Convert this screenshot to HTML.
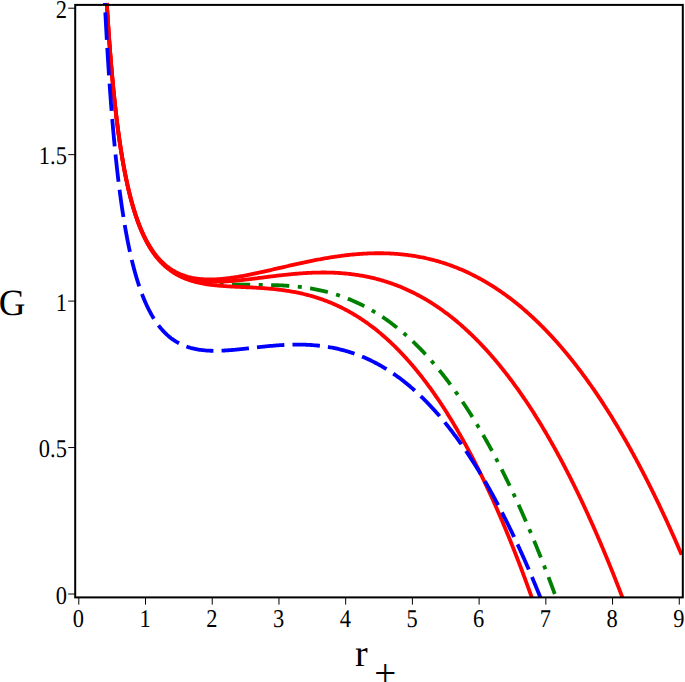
<!DOCTYPE html>
<html><head><meta charset="utf-8"><style>
html,body{margin:0;padding:0;background:#fff;width:685px;height:682px;overflow:hidden}
svg{display:block;font-family:"Liberation Serif",serif;text-rendering:geometricPrecision}
</style></head><body>
<svg width="685" height="682" viewBox="0 0 685 682">
<defs><clipPath id="c"><rect x="74" y="2.8" width="610" height="594.6"/></clipPath></defs>
<g clip-path="url(#c)" fill="none" stroke-linejoin="round">
<path d="M208.90 282.09 L210.09 282.30 L211.27 282.50 L212.46 282.68 L213.65 282.86 L214.84 283.02 L216.04 283.17 L217.23 283.32 L218.43 283.45 L219.62 283.57 L220.82 283.69 L222.02 283.79 L223.21 283.89 L224.41 283.98 L225.61 284.07 L226.81 284.14 L228.01 284.21 L229.21 284.28 L230.41 284.34 L231.62 284.39 L232.82 284.44 L234.02 284.48 L235.22 284.52 L236.42 284.56 L237.62 284.59 L238.83 284.62 L240.03 284.64 L241.23 284.67 L242.43 284.69 L243.64 284.70 L244.84 284.72 L246.04 284.73 L247.24 284.75 L248.44 284.76 L249.65 284.77 L250.85 284.78 L252.05 284.78 L253.25 284.79 L254.46 284.80 L255.66 284.81 L256.86 284.82 L258.06 284.83 L259.27 284.84 L260.47 284.85 L261.67 284.86 L262.87 284.88 L264.08 284.89 L265.28 284.91 L266.48 284.93 L267.68 284.95 L268.88 284.98 L270.09 285.00 L271.29 285.03 L272.49 285.07 L273.69 285.10 L274.89 285.14 L276.10 285.18 L277.30 285.23 L278.50 285.27 L279.70 285.33 L280.90 285.38 L282.10 285.44 L283.30 285.51 L284.50 285.58 L285.70 285.65 L286.90 285.73 L288.10 285.82 L289.30 285.90 L290.50 286.00 L291.70 286.10 L292.90 286.20 L294.09 286.31 L295.29 286.42 L296.49 286.55 L297.68 286.67 L298.88 286.80 L300.07 286.94 L301.27 287.09 L302.46 287.24 L303.65 287.39 L304.84 287.56 L306.03 287.73 L307.22 287.90 L308.41 288.09 L309.60 288.28 L310.78 288.47 L311.97 288.68 L313.15 288.89 L314.34 289.11 L315.52 289.33 L316.70 289.56 L317.88 289.80 L319.05 290.05 L320.23 290.30 L321.40 290.56 L322.57 290.83 L323.74 291.11 L324.91 291.39 L326.08 291.68 L327.24 291.98 L328.41 292.29 L329.57 292.60 L330.73 292.92 L331.88 293.25 L333.04 293.59 L334.19 293.93 L335.34 294.29 L336.48 294.65 L337.63 295.01 L338.77 295.39 L339.91 295.77 L341.05 296.17 L342.18 296.56 L343.31 296.97 L344.44 297.39 L345.57 297.81 L346.69 298.24 L347.81 298.68 L348.93 299.12 L350.04 299.58 L351.15 300.04 L352.26 300.50 L353.36 300.98 L354.46 301.46 L355.56 301.95 L356.66 302.45 L357.75 302.96 L358.83 303.47 L359.92 303.99 L361.00 304.52 L362.08 305.06 L363.15 305.60 L364.22 306.15 L365.28 306.70 L366.35 307.27 L367.40 307.84 L368.46 308.41 L369.51 309.00 L370.56 309.59 L371.60 310.19 L372.64 310.79 L373.68 311.40 L374.71 312.02 L375.74 312.64 L376.76 313.27 L377.78 313.91 L378.80 314.55 L379.81 315.20 L380.82 315.86 L381.82 316.52 L382.82 317.19 L383.82 317.86 L384.81 318.54 L385.80 319.23 L386.78 319.92 L387.76 320.61 L388.74 321.32 L389.71 322.02 L390.68 322.74 L391.64 323.46 L392.60 324.18 L393.56 324.91 L394.51 325.64 L395.46 326.38 L396.40 327.13 L397.34 327.88 L398.27 328.63 L399.21 329.39 L400.13 330.16 L401.06 330.93 L401.98 331.70 L402.89 332.48 L403.81 333.26 L404.71 334.05 L405.62 334.85 L406.52 335.64 L407.42 336.44 L408.31 337.25 L409.20 338.06 L410.08 338.87 L410.96 339.69 L411.84 340.51 L412.72 341.34 L413.58 342.17 L414.45 343.00 L415.31 343.84 L416.17 344.68 L417.03 345.53 L417.88 346.38 L418.73 347.23 L419.57 348.09 L420.41 348.95 L421.25 349.81 L422.08 350.68 L422.91 351.55 L423.74 352.42 L424.56 353.30 L425.38 354.18 L426.20 355.06 L427.01 355.95 L427.82 356.84 L428.62 357.73 L429.42 358.62 L430.22 359.52 L431.02 360.42 L431.81 361.33 L432.60 362.24 L433.38 363.15 L434.17 364.06 L434.95 364.98 L435.72 365.89 L436.49 366.82 L437.26 367.74 L438.03 368.67 L438.79 369.60 L439.55 370.53 L440.31 371.46 L441.07 372.40 L441.82 373.34 L442.56 374.28 L443.31 375.22 L444.05 376.17 L444.79 377.12 L445.53 378.07 L446.26 379.02 L446.99 379.98 L447.72 380.93 L448.44 381.89 L449.16 382.85 L449.88 383.82 L450.60 384.78 L451.31 385.75 L452.02 386.72 L452.73 387.69 L453.44 388.67 L454.14 389.64 L454.84 390.62 L455.54 391.60 L456.23 392.58 L456.92 393.57 L457.61 394.55 L458.30 395.54 L458.98 396.53 L459.66 397.52 L460.34 398.51 L461.02 399.50 L461.69 400.50 L462.37 401.50 L463.04 402.50 L463.70 403.50 L464.37 404.50 L465.03 405.50 L465.69 406.51 L466.35 407.51 L467.00 408.52 L467.65 409.53 L468.30 410.54 L468.95 411.56 L469.60 412.57 L470.24 413.59 L470.88 414.60 L471.52 415.62 L472.16 416.64 L472.79 417.66 L473.42 418.69 L474.05 419.71 L474.68 420.74 L475.31 421.76 L475.93 422.79 L476.55 423.82 L477.17 424.85 L477.79 425.88 L478.41 426.91 L479.02 427.95 L479.63 428.98 L480.24 430.02 L480.85 431.06 L481.45 432.10 L482.06 433.14 L482.66 434.18 L483.26 435.22 L483.86 436.26 L484.45 437.31 L485.04 438.35 L485.64 439.40 L486.23 440.45 L486.81 441.50 L487.40 442.55 L487.99 443.60 L488.57 444.65 L489.15 445.70 L489.73 446.76 L490.30 447.81 L490.88 448.87 L491.45 449.92 L492.03 450.98 L492.60 452.04 L493.16 453.10 L493.73 454.16 L494.30 455.22 L494.86 456.28 L495.42 457.35 L495.98 458.41 L496.54 459.48 L497.09 460.54 L497.65 461.61 L498.20 462.68 L498.75 463.75 L499.30 464.81 L499.85 465.88 L500.40 466.96 L500.94 468.03 L501.49 469.10 L502.03 470.17 L502.57 471.25 L503.11 472.32 L503.65 473.40 L504.18 474.47 L504.72 475.55 L505.25 476.63 L505.78 477.71 L506.31 478.79 L506.84 479.87 L507.37 480.95 L507.89 482.03 L508.42 483.11 L508.94 484.19 L509.46 485.28 L509.98 486.36 L510.50 487.45 L511.02 488.53 L511.53 489.62 L512.05 490.71 L512.56 491.79 L513.07 492.88 L513.58 493.97 L514.09 495.06 L514.60 496.15 L515.10 497.24 L515.61 498.33 L516.11 499.42 L516.61 500.52 L517.11 501.61 L517.61 502.70 L518.11 503.80 L518.61 504.89 L519.10 505.99 L519.60 507.08 L520.09 508.18 L520.58 509.28 L521.07 510.38 L521.56 511.47 L522.05 512.57 L522.54 513.67 L523.02 514.77 L523.51 515.87 L523.99 516.97 L524.47 518.08 L524.95 519.18 L525.43 520.28 L525.91 521.38 L526.39 522.49 L526.87 523.59 L527.34 524.70 L527.82 525.80 L528.29 526.91 L528.76 528.01 L529.23 529.12 L529.70 530.23 L530.17 531.33 L530.64 532.44 L531.10 533.55 L531.57 534.66 L532.03 535.77 L532.49 536.88 L532.95 537.99 L533.42 539.10 L533.87 540.21 L534.33 541.32 L534.79 542.43 L535.25 543.55 L535.70 544.66 L536.16 545.77 L536.61 546.89 L537.06 548.00 L537.51 549.11 L537.96 550.23 L538.41 551.34 L538.86 552.46 L539.31 553.58 L539.76 554.69 L540.20 555.81 L540.64 556.93 L541.09 558.04 L541.53 559.16 L541.97 560.28 L542.41 561.40 L542.85 562.52 L543.29 563.64 L543.73 564.76 L544.16 565.88 L544.60 567.00 L545.03 568.12 L545.47 569.24 L545.90 570.36 L546.33 571.49 L546.76 572.61 L547.19 573.73 L547.62 574.85 L548.05 575.98 L548.48 577.10 L548.91 578.23 L549.33 579.35 L549.76 580.48 L550.18 581.60 L550.60 582.73 L551.02 583.85 L551.45 584.98 L551.87 586.11 L552.29 587.23 L552.70 588.36 L553.12 589.49 L553.54 590.61 L553.95 591.74 L554.37 592.87 L554.78 594.00" stroke="#008000" stroke-width="3.8" stroke-dasharray="18.20 8.55 4.00 8.40" stroke-dashoffset="15.95"/>
<path d="M106.72 2.80 L106.79 4.00 L106.86 5.20 L106.94 6.40 L107.01 7.59 L107.08 8.79 L107.16 9.99 L107.23 11.19 L107.31 12.39 L107.38 13.59 L107.46 14.79 L107.54 15.98 L107.61 17.18 L107.69 18.38 L107.77 19.58 L107.85 20.78 L107.93 21.98 L108.01 23.18 L108.09 24.37 L108.17 25.57 L108.25 26.77 L108.33 27.97 L108.41 29.17 L108.50 30.36 L108.58 31.56 L108.66 32.76 L108.75 33.96 L108.83 35.16 L108.92 36.35 L109.00 37.55 L109.09 38.75 L109.18 39.95 L109.26 41.14 L109.35 42.34 L109.44 43.54 L109.53 44.74 L109.62 45.94 L109.71 47.13 L109.80 48.33 L109.89 49.53 L109.99 50.73 L110.08 51.92 L110.17 53.12 L110.27 54.32 L110.36 55.51 L110.46 56.71 L110.55 57.91 L110.65 59.11 L110.75 60.30 L110.85 61.50 L110.95 62.70 L111.05 63.89 L111.15 65.09 L111.25 66.29 L111.35 67.48 L111.45 68.68 L111.56 69.88 L111.66 71.07 L111.77 72.27 L111.87 73.46 L111.98 74.66 L112.09 75.86 L112.20 77.05 L112.30 78.25 L112.41 79.44 L112.53 80.64 L112.64 81.84 L112.75 83.03 L112.86 84.23 L112.98 85.42 L113.09 86.62 L113.21 87.81 L113.33 89.01 L113.44 90.20 L113.56 91.40 L113.68 92.59 L113.80 93.79 L113.92 94.98 L114.05 96.18 L114.17 97.37 L114.30 98.57 L114.42 99.76 L114.55 100.96 L114.68 102.15 L114.80 103.34 L114.93 104.54 L115.07 105.73 L115.20 106.92 L115.33 108.12 L115.47 109.31 L115.60 110.50 L115.74 111.70 L115.88 112.89 L116.01 114.08 L116.16 115.28 L116.30 116.47 L116.44 117.66 L116.58 118.85 L116.73 120.05 L116.88 121.24 L117.02 122.43 L117.17 123.62 L117.32 124.81 L117.48 126.00 L117.63 127.19 L117.78 128.39 L117.94 129.58 L118.10 130.77 L118.26 131.96 L118.42 133.15 L118.58 134.34 L118.75 135.53 L118.91 136.72 L119.08 137.91 L119.25 139.09 L119.42 140.28 L119.59 141.47 L119.76 142.66 L119.94 143.85 L120.12 145.04 L120.30 146.22 L120.48 147.41 L120.66 148.60 L120.84 149.78 L121.03 150.97 L121.22 152.16 L121.41 153.34 L121.60 154.53 L121.80 155.71 L121.99 156.90 L122.19 158.08 L122.39 159.27 L122.60 160.45 L122.80 161.63 L123.01 162.82 L123.22 164.00 L123.43 165.18 L123.65 166.36 L123.86 167.54 L124.08 168.72 L124.31 169.90 L124.53 171.08 L124.76 172.26 L124.99 173.44 L125.22 174.62 L125.46 175.80 L125.69 176.97 L125.94 178.15 L126.18 179.33 L126.43 180.50 L126.68 181.68 L126.93 182.85 L127.19 184.02 L127.45 185.20 L127.71 186.37 L127.98 187.54 L128.25 188.71 L128.52 189.88 L128.80 191.05 L129.08 192.21 L129.36 193.38 L129.65 194.55 L129.94 195.71 L130.24 196.87 L130.54 198.04 L130.84 199.20 L131.15 200.36 L131.47 201.52 L131.78 202.68 L132.10 203.83 L132.43 204.99 L132.76 206.14 L133.10 207.30 L133.44 208.45 L133.79 209.60 L134.14 210.75 L134.49 211.89 L134.86 213.04 L135.22 214.18 L135.60 215.32 L135.98 216.46 L136.36 217.60 L136.75 218.74 L137.15 219.87 L137.55 221.00 L137.96 222.13 L138.38 223.26 L138.81 224.38 L139.24 225.50 L139.68 226.62 L140.12 227.73 L140.57 228.84 L141.04 229.95 L141.50 231.06 L141.98 232.16 L142.47 233.26 L142.96 234.35 L143.47 235.44 L143.98 236.53 L144.50 237.61 L145.03 238.69 L145.57 239.76 L146.12 240.83 L146.68 241.89 L147.25 242.95 L147.83 244.00 L148.42 245.04 L149.03 246.08 L149.64 247.11 L150.27 248.14 L150.91 249.16 L151.56 250.17 L152.22 251.17 L152.89 252.16 L153.58 253.15 L154.28 254.12 L154.99 255.09 L155.72 256.04 L156.46 256.99 L157.21 257.93 L157.98 258.85 L158.76 259.76 L159.56 260.66 L160.37 261.55 L161.19 262.42 L162.03 263.28 L162.88 264.13 L163.75 264.96 L164.63 265.78 L165.52 266.58 L166.43 267.36 L167.35 268.13 L168.29 268.88 L169.24 269.62 L170.20 270.34 L171.18 271.04 L172.17 271.72 L173.17 272.38 L174.18 273.03 L175.20 273.66 L176.24 274.27 L177.28 274.86 L178.34 275.43 L179.41 275.98 L180.48 276.51 L181.57 277.03 L182.66 277.53 L183.76 278.00 L184.87 278.46 L185.99 278.91 L187.11 279.33 L188.24 279.74 L189.38 280.13 L190.52 280.50 L191.66 280.86 L192.81 281.21 L193.97 281.53 L195.13 281.85 L196.29 282.14 L197.46 282.43 L198.63 282.70 L199.80 282.96 L200.98 283.20 L202.16 283.43 L203.34 283.65 L204.52 283.86 L205.70 284.06 L206.89 284.25 L208.08 284.43 L209.27 284.60 L210.46 284.76 L211.65 284.91 L212.84 285.05 L214.03 285.19 L215.23 285.32 L216.42 285.44 L217.62 285.56 L218.81 285.66 L220.01 285.77 L221.21 285.87 L222.40 285.96 L223.60 286.05 L224.80 286.13 L226.00 286.21 L227.20 286.29 L228.40 286.36 L229.59 286.43 L230.79 286.49 L231.99 286.56 L233.19 286.62 L234.39 286.68 L235.59 286.74 L236.79 286.79 L237.99 286.85 L239.19 286.90 L240.39 286.96 L241.59 287.01 L242.79 287.07 L243.99 287.12 L245.19 287.17 L246.39 287.23 L247.59 287.29 L248.79 287.34 L249.99 287.40 L251.19 287.46 L252.39 287.52 L253.58 287.58 L254.78 287.65 L255.98 287.71 L257.18 287.78 L258.38 287.85 L259.58 287.93 L260.78 288.01 L261.98 288.09 L263.17 288.17 L264.37 288.26 L265.57 288.35 L266.77 288.44 L267.96 288.54 L269.16 288.65 L270.36 288.75 L271.55 288.86 L272.75 288.98 L273.94 289.10 L275.14 289.23 L276.33 289.36 L277.52 289.49 L278.72 289.63 L279.91 289.78 L281.10 289.93 L282.29 290.09 L283.48 290.25 L284.67 290.42 L285.86 290.59 L287.04 290.77 L288.23 290.96 L289.42 291.15 L290.60 291.35 L291.78 291.56 L292.97 291.77 L294.15 291.99 L295.33 292.22 L296.50 292.45 L297.68 292.69 L298.86 292.93 L300.03 293.19 L301.20 293.45 L302.37 293.71 L303.54 293.99 L304.71 294.27 L305.88 294.56 L307.04 294.86 L308.20 295.16 L309.36 295.47 L310.52 295.79 L311.67 296.12 L312.83 296.45 L313.98 296.79 L315.13 297.14 L316.27 297.50 L317.42 297.86 L318.56 298.23 L319.70 298.61 L320.84 299.00 L321.97 299.40 L323.10 299.80 L324.23 300.21 L325.36 300.63 L326.48 301.05 L327.60 301.49 L328.72 301.93 L329.83 302.38 L330.94 302.83 L332.05 303.30 L333.15 303.77 L334.25 304.25 L335.35 304.74 L336.45 305.23 L337.54 305.73 L338.62 306.24 L339.71 306.76 L340.79 307.28 L341.87 307.82 L342.94 308.35 L344.01 308.90 L345.07 309.45 L346.14 310.01 L347.20 310.58 L348.25 311.16 L349.30 311.74 L350.35 312.33 L351.39 312.92 L352.43 313.52 L353.47 314.13 L354.50 314.75 L355.52 315.37 L356.55 316.00 L357.57 316.63 L358.58 317.27 L359.59 317.92 L360.60 318.58 L361.60 319.24 L362.60 319.90 L363.60 320.57 L364.59 321.25 L365.57 321.94 L366.56 322.63 L367.54 323.32 L368.51 324.03 L369.48 324.73 L370.45 325.45 L371.41 326.17 L372.37 326.89 L373.32 327.62 L374.27 328.36 L375.21 329.10 L376.16 329.84 L377.09 330.59 L378.03 331.35 L378.95 332.11 L379.88 332.88 L380.80 333.65 L381.72 334.42 L382.63 335.20 L383.54 335.99 L384.44 336.78 L385.34 337.57 L386.24 338.37 L387.13 339.18 L388.02 339.98 L388.91 340.80 L389.79 341.61 L390.66 342.43 L391.54 343.26 L392.41 344.09 L393.27 344.92 L394.13 345.76 L394.99 346.60 L395.84 347.44 L396.69 348.29 L397.54 349.14 L398.38 350.00 L399.22 350.86 L400.05 351.72 L400.89 352.59 L401.71 353.46 L402.54 354.33 L403.36 355.21 L404.17 356.09 L404.99 356.98 L405.80 357.86 L406.60 358.75 L407.40 359.65 L408.20 360.54 L409.00 361.44 L409.79 362.35 L410.58 363.25 L411.36 364.16 L412.14 365.07 L412.92 365.99 L413.70 366.90 L414.47 367.83 L415.24 368.75 L416.00 369.67 L416.76 370.60 L417.52 371.53 L418.28 372.47 L419.03 373.40 L419.78 374.34 L420.53 375.28 L421.27 376.23 L422.01 377.17 L422.74 378.12 L423.48 379.07 L424.21 380.03 L424.94 380.98 L425.66 381.94 L426.38 382.90 L427.10 383.86 L427.82 384.83 L428.53 385.79 L429.24 386.76 L429.95 387.73 L430.65 388.70 L431.35 389.68 L432.05 390.66 L432.75 391.63 L433.44 392.62 L434.13 393.60 L434.82 394.58 L435.50 395.57 L436.18 396.56 L436.86 397.55 L437.54 398.54 L438.21 399.53 L438.89 400.53 L439.56 401.53 L440.22 402.52 L440.89 403.53 L441.55 404.53 L442.21 405.53 L442.86 406.54 L443.52 407.54 L444.17 408.55 L444.82 409.56 L445.47 410.57 L446.11 411.59 L446.75 412.60 L447.39 413.62 L448.03 414.64 L448.66 415.66 L449.30 416.68 L449.93 417.70 L450.56 418.72 L451.18 419.75 L451.81 420.77 L452.43 421.80 L453.05 422.83 L453.66 423.86 L454.28 424.89 L454.89 425.93 L455.50 426.96 L456.11 427.99 L456.72 429.03 L457.32 430.07 L457.92 431.11 L458.52 432.15 L459.12 433.19 L459.72 434.23 L460.31 435.28 L460.90 436.32 L461.49 437.37 L462.08 438.41 L462.67 439.46 L463.25 440.51 L463.83 441.56 L464.42 442.61 L464.99 443.66 L465.57 444.72 L466.15 445.77 L466.72 446.83 L467.29 447.88 L467.86 448.94 L468.43 450.00 L468.99 451.06 L469.55 452.12 L470.12 453.18 L470.68 454.24 L471.23 455.31 L471.79 456.37 L472.35 457.44 L472.90 458.50 L473.45 459.57 L474.00 460.64 L474.55 461.71 L475.09 462.78 L475.64 463.85 L476.18 464.92 L476.72 465.99 L477.26 467.06 L477.80 468.14 L478.34 469.21 L478.87 470.29 L479.41 471.36 L479.94 472.44 L480.47 473.52 L481.00 474.59 L481.52 475.67 L482.05 476.75 L482.57 477.83 L483.09 478.92 L483.62 480.00 L484.13 481.08 L484.65 482.16 L485.17 483.25 L485.68 484.33 L486.20 485.42 L486.71 486.50 L487.22 487.59 L487.73 488.68 L488.24 489.77 L488.74 490.86 L489.25 491.95 L489.75 493.04 L490.25 494.13 L490.75 495.22 L491.25 496.31 L491.75 497.40 L492.25 498.50 L492.74 499.59 L493.24 500.69 L493.73 501.78 L494.22 502.88 L494.71 503.97 L495.20 505.07 L495.69 506.17 L496.17 507.27 L496.66 508.37 L497.14 509.47 L497.62 510.56 L498.10 511.67 L498.58 512.77 L499.06 513.87 L499.54 514.97 L500.01 516.07 L500.49 517.18 L500.96 518.28 L501.43 519.38 L501.91 520.49 L502.38 521.59 L502.84 522.70 L503.31 523.81 L503.78 524.91 L504.24 526.02 L504.71 527.13 L505.17 528.23 L505.63 529.34 L506.09 530.45 L506.55 531.56 L507.01 532.67 L507.47 533.78 L507.92 534.89 L508.38 536.01 L508.83 537.12 L509.28 538.23 L509.74 539.34 L510.19 540.46 L510.64 541.57 L511.08 542.68 L511.53 543.80 L511.98 544.91 L512.42 546.03 L512.87 547.14 L513.31 548.26 L513.75 549.38 L514.19 550.49 L514.63 551.61 L515.07 552.73 L515.51 553.85 L515.95 554.97 L516.38 556.08 L516.82 557.20 L517.25 558.32 L517.69 559.44 L518.12 560.56 L518.55 561.69 L518.98 562.81 L519.41 563.93 L519.84 565.05 L520.26 566.17 L520.69 567.30 L521.12 568.42 L521.54 569.54 L521.96 570.67 L522.39 571.79 L522.81 572.91 L523.23 574.04 L523.65 575.16 L524.07 576.29 L524.48 577.42 L524.90 578.54 L525.32 579.67 L525.73 580.80 L526.15 581.92 L526.56 583.05 L526.97 584.18 L527.38 585.31 L527.79 586.43 L528.20 587.56 L528.61 588.69 L529.02 589.82 L529.43 590.95 L529.84 592.08 L530.24 593.21 L530.65 594.34 L531.05 595.47 L531.45 596.60 L531.86 597.74 L532.26 598.87 L532.66 600.00" stroke="#ff0000" stroke-width="3.8"/>
<path d="M106.73 2.80 L106.80 4.00 L106.87 5.20 L106.94 6.39 L107.02 7.59 L107.09 8.79 L107.17 9.99 L107.24 11.18 L107.32 12.38 L107.39 13.58 L107.47 14.78 L107.54 15.98 L107.62 17.17 L107.70 18.37 L107.78 19.57 L107.85 20.77 L107.93 21.96 L108.01 23.16 L108.09 24.36 L108.17 25.56 L108.25 26.75 L108.34 27.95 L108.42 29.15 L108.50 30.34 L108.58 31.54 L108.67 32.74 L108.75 33.94 L108.84 35.13 L108.92 36.33 L109.01 37.53 L109.09 38.72 L109.18 39.92 L109.27 41.12 L109.36 42.31 L109.44 43.51 L109.53 44.71 L109.62 45.90 L109.71 47.10 L109.81 48.30 L109.90 49.49 L109.99 50.69 L110.08 51.89 L110.18 53.08 L110.27 54.28 L110.37 55.48 L110.46 56.67 L110.56 57.87 L110.65 59.06 L110.75 60.26 L110.85 61.46 L110.95 62.65 L111.05 63.85 L111.15 65.04 L111.25 66.24 L111.35 67.44 L111.46 68.63 L111.56 69.83 L111.66 71.02 L111.77 72.22 L111.87 73.41 L111.98 74.61 L112.09 75.80 L112.20 77.00 L112.30 78.19 L112.41 79.39 L112.53 80.58 L112.64 81.78 L112.75 82.97 L112.86 84.17 L112.98 85.36 L113.09 86.56 L113.21 87.75 L113.32 88.95 L113.44 90.14 L113.56 91.34 L113.68 92.53 L113.80 93.72 L113.92 94.92 L114.04 96.11 L114.17 97.30 L114.29 98.50 L114.42 99.69 L114.54 100.89 L114.67 102.08 L114.80 103.27 L114.93 104.46 L115.06 105.66 L115.19 106.85 L115.32 108.04 L115.46 109.24 L115.59 110.43 L115.73 111.62 L115.87 112.81 L116.01 114.00 L116.15 115.20 L116.29 116.39 L116.43 117.58 L116.57 118.77 L116.72 119.96 L116.87 121.15 L117.01 122.34 L117.16 123.54 L117.31 124.73 L117.46 125.92 L117.62 127.11 L117.77 128.30 L117.93 129.49 L118.09 130.68 L118.24 131.87 L118.40 133.05 L118.57 134.24 L118.73 135.43 L118.90 136.62 L119.06 137.81 L119.23 139.00 L119.40 140.19 L119.57 141.37 L119.75 142.56 L119.92 143.75 L120.10 144.94 L120.28 146.12 L120.46 147.31 L120.64 148.49 L120.82 149.68 L121.01 150.87 L121.20 152.05 L121.39 153.24 L121.58 154.42 L121.77 155.60 L121.97 156.79 L122.17 157.97 L122.37 159.16 L122.57 160.34 L122.77 161.52 L122.98 162.70 L123.19 163.88 L123.40 165.07 L123.62 166.25 L123.83 167.43 L124.05 168.61 L124.27 169.79 L124.50 170.97 L124.72 172.14 L124.95 173.32 L125.19 174.50 L125.42 175.68 L125.66 176.85 L125.90 178.03 L126.14 179.20 L126.39 180.38 L126.64 181.55 L126.89 182.72 L127.15 183.90 L127.40 185.07 L127.67 186.24 L127.93 187.41 L128.20 188.58 L128.47 189.75 L128.75 190.92 L129.03 192.08 L129.31 193.25 L129.60 194.41 L129.89 195.58 L130.19 196.74 L130.49 197.90 L130.79 199.07 L131.10 200.23 L131.41 201.38 L131.72 202.54 L132.05 203.70 L132.37 204.85 L132.70 206.01 L133.04 207.16 L133.38 208.31 L133.72 209.46 L134.07 210.61 L134.43 211.75 L134.79 212.90 L135.15 214.04 L135.53 215.18 L135.90 216.32 L136.29 217.46 L136.68 218.59 L137.08 219.73 L137.48 220.86 L137.89 221.98 L138.30 223.11 L138.73 224.23 L139.16 225.35 L139.60 226.47 L140.04 227.58 L140.49 228.70 L140.95 229.80 L141.42 230.91 L141.90 232.01 L142.38 233.11 L142.88 234.20 L143.38 235.29 L143.89 236.38 L144.42 237.46 L144.95 238.53 L145.49 239.60 L146.04 240.67 L146.60 241.73 L147.17 242.79 L147.75 243.84 L148.35 244.88 L148.95 245.91 L149.57 246.94 L150.20 247.97 L150.84 248.98 L151.49 249.99 L152.16 250.99 L152.83 251.98 L153.53 252.96 L154.23 253.93 L154.95 254.89 L155.68 255.84 L156.43 256.78 L157.19 257.71 L157.96 258.62 L158.75 259.53 L159.56 260.42 L160.38 261.30 L161.21 262.16 L162.06 263.01 L162.92 263.84 L163.80 264.66 L164.70 265.46 L165.61 266.24 L166.53 267.01 L167.47 267.76 L168.42 268.49 L169.39 269.20 L170.37 269.89 L171.36 270.56 L172.37 271.21 L173.39 271.84 L174.42 272.45 L175.47 273.04 L176.52 273.61 L177.59 274.16 L178.67 274.69 L179.76 275.19 L180.86 275.67 L181.97 276.14 L183.08 276.58 L184.21 277.00 L185.34 277.39 L186.48 277.77 L187.62 278.13 L188.77 278.47 L189.93 278.79 L191.09 279.09 L192.26 279.37 L193.43 279.63 L194.61 279.87 L195.78 280.10 L196.97 280.31 L198.15 280.50 L199.34 280.68 L200.53 280.84 L201.72 280.98 L202.91 281.12 L204.10 281.23 L205.30 281.34 L206.50 281.43 L207.69 281.50 L208.89 281.57 L210.09 281.62 L211.29 281.66 L212.49 281.70 L213.69 281.72 L214.89 281.73 L216.09 281.73 L217.29 281.72 L218.49 281.70 L219.69 281.68 L220.89 281.64 L222.09 281.60 L223.29 281.55 L224.49 281.49 L225.69 281.43 L226.88 281.36 L228.08 281.29 L229.28 281.20 L230.48 281.12 L231.67 281.02 L232.87 280.93 L234.06 280.82 L235.26 280.72 L236.45 280.61 L237.65 280.49 L238.84 280.37 L240.04 280.25 L241.23 280.12 L242.42 279.99 L243.62 279.86 L244.81 279.73 L246.00 279.59 L247.19 279.45 L248.38 279.31 L249.58 279.17 L250.77 279.02 L251.96 278.88 L253.15 278.73 L254.34 278.58 L255.53 278.43 L256.72 278.28 L257.91 278.13 L259.10 277.98 L260.29 277.82 L261.48 277.67 L262.67 277.52 L263.86 277.37 L265.05 277.21 L266.24 277.06 L267.43 276.91 L268.62 276.76 L269.82 276.61 L271.01 276.46 L272.20 276.31 L273.39 276.17 L274.58 276.02 L275.77 275.88 L276.96 275.73 L278.15 275.59 L279.35 275.45 L280.54 275.32 L281.73 275.18 L282.92 275.05 L284.12 274.92 L285.31 274.79 L286.50 274.66 L287.70 274.54 L288.89 274.42 L290.08 274.30 L291.28 274.18 L292.47 274.07 L293.67 273.96 L294.86 273.85 L296.06 273.75 L297.26 273.65 L298.45 273.55 L299.65 273.46 L300.84 273.37 L302.04 273.29 L303.24 273.21 L304.44 273.13 L305.63 273.06 L306.83 272.99 L308.03 272.92 L309.23 272.86 L310.43 272.81 L311.63 272.76 L312.83 272.71 L314.03 272.67 L315.23 272.63 L316.42 272.60 L317.62 272.57 L318.82 272.55 L320.02 272.53 L321.22 272.52 L322.42 272.51 L323.62 272.51 L324.82 272.51 L326.02 272.52 L327.22 272.54 L328.42 272.56 L329.62 272.59 L330.82 272.62 L332.02 272.66 L333.22 272.70 L334.42 272.75 L335.62 272.81 L336.82 272.87 L338.02 272.94 L339.21 273.02 L340.41 273.10 L341.61 273.19 L342.80 273.28 L344.00 273.38 L345.20 273.49 L346.39 273.60 L347.58 273.72 L348.78 273.85 L349.97 273.99 L351.16 274.13 L352.35 274.28 L353.54 274.43 L354.73 274.59 L355.92 274.76 L357.11 274.94 L358.29 275.12 L359.48 275.31 L360.66 275.51 L361.84 275.72 L363.02 275.93 L364.20 276.15 L365.38 276.38 L366.56 276.61 L367.74 276.85 L368.91 277.10 L370.08 277.36 L371.25 277.62 L372.42 277.89 L373.59 278.17 L374.75 278.46 L375.92 278.75 L377.08 279.05 L378.24 279.36 L379.40 279.67 L380.55 280.00 L381.71 280.33 L382.86 280.66 L384.01 281.01 L385.15 281.36 L386.30 281.72 L387.44 282.09 L388.58 282.46 L389.72 282.85 L390.85 283.23 L391.99 283.63 L393.12 284.04 L394.24 284.45 L395.37 284.87 L396.49 285.29 L397.61 285.72 L398.73 286.16 L399.84 286.61 L400.95 287.06 L402.06 287.53 L403.16 287.99 L404.27 288.47 L405.37 288.95 L406.46 289.44 L407.55 289.94 L408.64 290.44 L409.73 290.95 L410.81 291.46 L411.89 291.99 L412.97 292.52 L414.04 293.05 L415.12 293.60 L416.18 294.14 L417.25 294.70 L418.31 295.26 L419.36 295.83 L420.42 296.40 L421.47 296.99 L422.51 297.57 L423.56 298.16 L424.60 298.76 L425.63 299.37 L426.67 299.98 L427.70 300.60 L428.72 301.22 L429.74 301.85 L430.76 302.48 L431.78 303.12 L432.79 303.77 L433.80 304.42 L434.80 305.08 L435.80 305.74 L436.80 306.41 L437.79 307.08 L438.78 307.76 L439.77 308.44 L440.75 309.13 L441.73 309.82 L442.71 310.52 L443.68 311.22 L444.65 311.93 L445.61 312.65 L446.57 313.36 L447.53 314.09 L448.49 314.82 L449.44 315.55 L450.38 316.29 L451.33 317.03 L452.27 317.77 L453.20 318.52 L454.14 319.28 L455.07 320.04 L455.99 320.80 L456.91 321.57 L457.83 322.34 L458.75 323.12 L459.66 323.90 L460.57 324.68 L461.47 325.47 L462.37 326.27 L463.27 327.06 L464.16 327.86 L465.05 328.67 L465.94 329.47 L466.83 330.29 L467.71 331.10 L468.58 331.92 L469.46 332.74 L470.33 333.57 L471.20 334.40 L472.06 335.23 L472.92 336.07 L473.78 336.91 L474.63 337.75 L475.48 338.60 L476.33 339.45 L477.17 340.30 L478.01 341.16 L478.85 342.01 L479.69 342.88 L480.52 343.74 L481.35 344.61 L482.17 345.48 L482.99 346.36 L483.81 347.23 L484.63 348.11 L485.44 349.00 L486.25 349.88 L487.06 350.77 L487.86 351.66 L488.66 352.55 L489.46 353.45 L490.26 354.35 L491.05 355.25 L491.84 356.16 L492.62 357.06 L493.41 357.97 L494.19 358.88 L494.97 359.80 L495.74 360.71 L496.51 361.63 L497.28 362.55 L498.05 363.48 L498.81 364.40 L499.57 365.33 L500.33 366.26 L501.08 367.19 L501.84 368.13 L502.59 369.07 L503.33 370.00 L504.08 370.95 L504.82 371.89 L505.56 372.83 L506.30 373.78 L507.03 374.73 L507.76 375.68 L508.49 376.64 L509.22 377.59 L509.94 378.55 L510.66 379.51 L511.38 380.47 L512.10 381.43 L512.81 382.39 L513.53 383.36 L514.23 384.33 L514.94 385.30 L515.65 386.27 L516.35 387.24 L517.05 388.22 L517.74 389.20 L518.44 390.17 L519.13 391.15 L519.82 392.14 L520.51 393.12 L521.20 394.10 L521.88 395.09 L522.56 396.08 L523.24 397.07 L523.92 398.06 L524.59 399.05 L525.26 400.05 L525.93 401.04 L526.60 402.04 L527.27 403.04 L527.93 404.04 L528.59 405.04 L529.25 406.04 L529.91 407.04 L530.56 408.05 L531.22 409.06 L531.87 410.06 L532.52 411.07 L533.17 412.08 L533.81 413.10 L534.45 414.11 L535.10 415.12 L535.73 416.14 L536.37 417.16 L537.01 418.17 L537.64 419.19 L538.27 420.21 L538.90 421.24 L539.53 422.26 L540.15 423.28 L540.78 424.31 L541.40 425.33 L542.02 426.36 L542.64 427.39 L543.25 428.42 L543.87 429.45 L544.48 430.48 L545.09 431.51 L545.70 432.55 L546.31 433.58 L546.91 434.62 L547.52 435.66 L548.12 436.69 L548.72 437.73 L549.32 438.77 L549.92 439.82 L550.51 440.86 L551.11 441.90 L551.70 442.94 L552.29 443.99 L552.88 445.03 L553.46 446.08 L554.05 447.13 L554.63 448.18 L555.21 449.23 L555.79 450.28 L556.37 451.33 L556.95 452.38 L557.53 453.43 L558.10 454.49 L558.67 455.54 L559.24 456.60 L559.81 457.65 L560.38 458.71 L560.95 459.77 L561.51 460.83 L562.08 461.89 L562.64 462.95 L563.20 464.01 L563.76 465.07 L564.31 466.13 L564.87 467.20 L565.42 468.26 L565.98 469.33 L566.53 470.39 L567.08 471.46 L567.63 472.53 L568.17 473.60 L568.72 474.66 L569.26 475.73 L569.81 476.80 L570.35 477.87 L570.89 478.95 L571.43 480.02 L571.97 481.09 L572.50 482.16 L573.04 483.24 L573.57 484.31 L574.10 485.39 L574.63 486.47 L575.16 487.54 L575.69 488.62 L576.22 489.70 L576.74 490.78 L577.27 491.86 L577.79 492.94 L578.31 494.02 L578.83 495.10 L579.35 496.18 L579.87 497.26 L580.39 498.35 L580.90 499.43 L581.42 500.51 L581.93 501.60 L582.44 502.68 L582.95 503.77 L583.46 504.86 L583.97 505.94 L584.48 507.03 L584.99 508.12 L585.49 509.21 L585.99 510.30 L586.50 511.39 L587.00 512.48 L587.50 513.57 L588.00 514.66 L588.49 515.75 L588.99 516.84 L589.49 517.94 L589.98 519.03 L590.47 520.12 L590.97 521.22 L591.46 522.31 L591.95 523.41 L592.44 524.51 L592.92 525.60 L593.41 526.70 L593.90 527.80 L594.38 528.89 L594.87 529.99 L595.35 531.09 L595.83 532.19 L596.31 533.29 L596.79 534.39 L597.27 535.49 L597.74 536.59 L598.22 537.69 L598.70 538.80 L599.17 539.90 L599.64 541.00 L600.11 542.10 L600.59 543.21 L601.06 544.31 L601.53 545.42 L601.99 546.52 L602.46 547.63 L602.93 548.73 L603.39 549.84 L603.86 550.95 L604.32 552.05 L604.78 553.16 L605.24 554.27 L605.70 555.38 L606.16 556.48 L606.62 557.59 L607.08 558.70 L607.54 559.81 L607.99 560.92 L608.45 562.03 L608.90 563.14 L609.35 564.26 L609.80 565.37 L610.26 566.48 L610.71 567.59 L611.16 568.70 L611.60 569.82 L612.05 570.93 L612.50 572.05 L612.94 573.16 L613.39 574.27 L613.83 575.39 L614.28 576.50 L614.72 577.62 L615.16 578.74 L615.60 579.85 L616.04 580.97 L616.48 582.09 L616.92 583.20 L617.35 584.32 L617.79 585.44 L618.23 586.56 L618.66 587.67 L619.09 588.79 L619.53 589.91 L619.96 591.03 L620.39 592.15 L620.82 593.27 L621.25 594.39 L621.68 595.51 L622.11 596.63 L622.54 597.76 L622.96 598.88 L623.39 600.00" stroke="#ff0000" stroke-width="3.8"/>
<path d="M106.81 2.80 L106.88 4.00 L106.96 5.20 L107.03 6.39 L107.10 7.59 L107.18 8.79 L107.25 9.99 L107.33 11.19 L107.40 12.38 L107.48 13.58 L107.56 14.78 L107.63 15.98 L107.71 17.17 L107.79 18.37 L107.87 19.57 L107.95 20.77 L108.03 21.97 L108.11 23.16 L108.19 24.36 L108.27 25.56 L108.35 26.76 L108.43 27.95 L108.51 29.15 L108.60 30.35 L108.68 31.55 L108.76 32.74 L108.85 33.94 L108.93 35.14 L109.02 36.33 L109.11 37.53 L109.19 38.73 L109.28 39.93 L109.37 41.12 L109.46 42.32 L109.55 43.52 L109.64 44.71 L109.73 45.91 L109.82 47.11 L109.91 48.30 L110.00 49.50 L110.10 50.70 L110.19 51.89 L110.28 53.09 L110.38 54.29 L110.47 55.48 L110.57 56.68 L110.67 57.88 L110.76 59.07 L110.86 60.27 L110.96 61.46 L111.06 62.66 L111.16 63.86 L111.26 65.05 L111.37 66.25 L111.47 67.44 L111.57 68.64 L111.68 69.84 L111.78 71.03 L111.89 72.23 L111.99 73.42 L112.10 74.62 L112.21 75.81 L112.32 77.01 L112.43 78.20 L112.54 79.40 L112.65 80.59 L112.76 81.79 L112.87 82.98 L112.99 84.18 L113.10 85.37 L113.22 86.57 L113.34 87.76 L113.45 88.96 L113.57 90.15 L113.69 91.35 L113.81 92.54 L113.93 93.73 L114.05 94.93 L114.18 96.12 L114.30 97.32 L114.43 98.51 L114.55 99.70 L114.68 100.90 L114.81 102.09 L114.94 103.28 L115.07 104.48 L115.20 105.67 L115.34 106.86 L115.47 108.06 L115.60 109.25 L115.74 110.44 L115.88 111.63 L116.02 112.83 L116.16 114.02 L116.30 115.21 L116.44 116.40 L116.58 117.59 L116.73 118.78 L116.87 119.98 L117.02 121.17 L117.17 122.36 L117.32 123.55 L117.47 124.74 L117.63 125.93 L117.78 127.12 L117.94 128.31 L118.09 129.50 L118.25 130.69 L118.41 131.88 L118.57 133.07 L118.74 134.26 L118.90 135.45 L119.07 136.63 L119.24 137.82 L119.41 139.01 L119.58 140.20 L119.75 141.39 L119.93 142.57 L120.10 143.76 L120.28 144.95 L120.46 146.14 L120.64 147.32 L120.83 148.51 L121.01 149.69 L121.20 150.88 L121.39 152.06 L121.58 153.25 L121.78 154.43 L121.97 155.62 L122.17 156.80 L122.37 157.99 L122.57 159.17 L122.78 160.35 L122.98 161.53 L123.19 162.72 L123.40 163.90 L123.62 165.08 L123.83 166.26 L124.05 167.44 L124.27 168.62 L124.50 169.80 L124.72 170.98 L124.95 172.15 L125.18 173.33 L125.42 174.51 L125.65 175.69 L125.89 176.86 L126.14 178.04 L126.38 179.21 L126.63 180.39 L126.88 181.56 L127.14 182.73 L127.40 183.91 L127.66 185.08 L127.92 186.25 L128.19 187.42 L128.46 188.59 L128.74 189.75 L129.02 190.92 L129.30 192.09 L129.59 193.25 L129.88 194.42 L130.17 195.58 L130.47 196.74 L130.77 197.91 L131.08 199.07 L131.39 200.23 L131.70 201.38 L132.02 202.54 L132.35 203.70 L132.68 204.85 L133.01 206.00 L133.35 207.15 L133.70 208.30 L134.04 209.45 L134.40 210.60 L134.76 211.74 L135.12 212.89 L135.50 214.03 L135.87 215.17 L136.26 216.31 L136.64 217.44 L137.04 218.58 L137.44 219.71 L137.85 220.84 L138.26 221.96 L138.69 223.09 L139.12 224.21 L139.55 225.32 L140.00 226.44 L140.45 227.55 L140.91 228.66 L141.37 229.77 L141.85 230.87 L142.33 231.97 L142.82 233.06 L143.33 234.15 L143.84 235.24 L144.36 236.32 L144.89 237.40 L145.42 238.47 L145.97 239.54 L146.53 240.60 L147.10 241.65 L147.68 242.71 L148.28 243.75 L148.88 244.79 L149.50 245.82 L150.12 246.84 L150.76 247.86 L151.41 248.86 L152.08 249.86 L152.76 250.85 L153.45 251.84 L154.15 252.81 L154.87 253.77 L155.60 254.72 L156.35 255.66 L157.11 256.59 L157.88 257.51 L158.67 258.41 L159.48 259.30 L160.30 260.18 L161.13 261.04 L161.98 261.89 L162.85 262.72 L163.73 263.53 L164.63 264.33 L165.54 265.11 L166.46 265.87 L167.41 266.62 L168.36 267.34 L169.33 268.05 L170.32 268.73 L171.32 269.40 L172.33 270.04 L173.36 270.66 L174.40 271.27 L175.45 271.84 L176.51 272.40 L177.59 272.93 L178.67 273.45 L179.77 273.93 L180.87 274.40 L181.99 274.84 L183.11 275.26 L184.25 275.66 L185.39 276.04 L186.53 276.39 L187.69 276.73 L188.85 277.04 L190.01 277.33 L191.18 277.60 L192.35 277.85 L193.53 278.07 L194.71 278.28 L195.90 278.48 L197.09 278.65 L198.28 278.80 L199.47 278.94 L200.66 279.06 L201.86 279.16 L203.06 279.25 L204.25 279.33 L205.45 279.38 L206.65 279.43 L207.85 279.46 L209.05 279.47 L210.25 279.47 L211.45 279.46 L212.65 279.44 L213.85 279.41 L215.05 279.36 L216.25 279.31 L217.45 279.24 L218.65 279.16 L219.84 279.08 L221.04 278.98 L222.24 278.87 L223.43 278.76 L224.62 278.64 L225.82 278.51 L227.01 278.37 L228.20 278.23 L229.39 278.08 L230.58 277.92 L231.77 277.75 L232.96 277.58 L234.15 277.40 L235.33 277.22 L236.52 277.03 L237.70 276.84 L238.89 276.64 L240.07 276.43 L241.25 276.22 L242.43 276.01 L243.61 275.79 L244.79 275.57 L245.97 275.35 L247.15 275.12 L248.33 274.89 L249.50 274.65 L250.68 274.42 L251.86 274.17 L253.03 273.93 L254.21 273.68 L255.38 273.43 L256.55 273.18 L257.73 272.93 L258.90 272.67 L260.07 272.42 L261.24 272.16 L262.42 271.90 L263.59 271.63 L264.76 271.37 L265.93 271.10 L267.10 270.84 L268.27 270.57 L269.44 270.30 L270.61 270.03 L271.78 269.77 L272.95 269.50 L274.12 269.22 L275.29 268.95 L276.46 268.68 L277.62 268.41 L278.79 268.14 L279.96 267.87 L281.13 267.60 L282.30 267.33 L283.47 267.05 L284.64 266.78 L285.81 266.51 L286.98 266.25 L288.15 265.98 L289.32 265.71 L290.49 265.44 L291.66 265.18 L292.83 264.91 L294.00 264.65 L295.17 264.38 L296.34 264.12 L297.52 263.86 L298.69 263.60 L299.86 263.35 L301.03 263.09 L302.21 262.84 L303.38 262.58 L304.55 262.33 L305.73 262.09 L306.90 261.84 L308.08 261.59 L309.25 261.35 L310.43 261.11 L311.60 260.87 L312.78 260.64 L313.96 260.40 L315.14 260.17 L316.31 259.94 L317.49 259.72 L318.67 259.50 L319.85 259.27 L321.03 259.06 L322.21 258.84 L323.40 258.63 L324.58 258.42 L325.76 258.22 L326.94 258.01 L328.13 257.82 L329.31 257.62 L330.50 257.43 L331.68 257.24 L332.87 257.05 L334.05 256.87 L335.24 256.69 L336.43 256.52 L337.62 256.35 L338.80 256.18 L339.99 256.02 L341.18 255.86 L342.37 255.70 L343.56 255.55 L344.75 255.40 L345.95 255.26 L347.14 255.12 L348.33 254.99 L349.52 254.86 L350.72 254.73 L351.91 254.61 L353.11 254.50 L354.30 254.38 L355.50 254.28 L356.69 254.18 L357.89 254.08 L359.09 253.99 L360.28 253.90 L361.48 253.82 L362.68 253.74 L363.88 253.67 L365.08 253.60 L366.27 253.54 L367.47 253.48 L368.67 253.43 L369.87 253.39 L371.07 253.35 L372.27 253.31 L373.47 253.28 L374.67 253.26 L375.87 253.24 L377.07 253.23 L378.27 253.23 L379.47 253.23 L380.67 253.23 L381.87 253.24 L383.07 253.26 L384.27 253.28 L385.47 253.31 L386.67 253.35 L387.87 253.39 L389.07 253.44 L390.27 253.50 L391.47 253.56 L392.67 253.63 L393.86 253.70 L395.06 253.78 L396.26 253.87 L397.46 253.96 L398.65 254.06 L399.85 254.17 L401.04 254.28 L402.24 254.40 L403.43 254.53 L404.62 254.66 L405.82 254.80 L407.01 254.95 L408.20 255.10 L409.39 255.26 L410.58 255.43 L411.76 255.60 L412.95 255.78 L414.13 255.97 L415.32 256.16 L416.50 256.36 L417.68 256.57 L418.87 256.79 L420.04 257.01 L421.22 257.24 L422.40 257.48 L423.58 257.72 L424.75 257.97 L425.92 258.23 L427.09 258.49 L428.26 258.76 L429.43 259.04 L430.59 259.32 L431.76 259.62 L432.92 259.92 L434.08 260.22 L435.24 260.53 L436.40 260.85 L437.55 261.18 L438.71 261.52 L439.86 261.86 L441.00 262.20 L442.15 262.56 L443.30 262.92 L444.44 263.29 L445.58 263.66 L446.72 264.05 L447.85 264.43 L448.99 264.83 L450.12 265.23 L451.24 265.64 L452.37 266.06 L453.49 266.48 L454.61 266.91 L455.73 267.34 L456.85 267.79 L457.96 268.23 L459.07 268.69 L460.18 269.15 L461.29 269.62 L462.39 270.09 L463.49 270.58 L464.59 271.06 L465.68 271.56 L466.77 272.06 L467.86 272.56 L468.94 273.07 L470.03 273.59 L471.11 274.12 L472.18 274.65 L473.26 275.18 L474.33 275.73 L475.40 276.27 L476.46 276.83 L477.52 277.39 L478.58 277.95 L479.64 278.52 L480.69 279.10 L481.74 279.68 L482.78 280.27 L483.83 280.87 L484.87 281.47 L485.90 282.07 L486.94 282.68 L487.97 283.30 L488.99 283.92 L490.02 284.54 L491.04 285.18 L492.06 285.81 L493.07 286.45 L494.08 287.10 L495.09 287.75 L496.09 288.41 L497.10 289.07 L498.09 289.74 L499.09 290.41 L500.08 291.09 L501.07 291.77 L502.05 292.45 L503.04 293.14 L504.01 293.84 L504.99 294.54 L505.96 295.24 L506.93 295.95 L507.90 296.66 L508.86 297.38 L509.82 298.10 L510.77 298.83 L511.73 299.56 L512.68 300.29 L513.62 301.03 L514.57 301.77 L515.50 302.52 L516.44 303.27 L517.37 304.02 L518.31 304.78 L519.23 305.55 L520.16 306.31 L521.08 307.08 L521.99 307.86 L522.91 308.63 L523.82 309.41 L524.73 310.20 L525.63 310.99 L526.54 311.78 L527.43 312.57 L528.33 313.37 L529.22 314.18 L530.11 314.98 L531.00 315.79 L531.88 316.60 L532.76 317.42 L533.64 318.24 L534.51 319.06 L535.39 319.89 L536.25 320.71 L537.12 321.55 L537.98 322.38 L538.84 323.22 L539.70 324.06 L540.55 324.90 L541.40 325.75 L542.25 326.60 L543.10 327.45 L543.94 328.31 L544.78 329.16 L545.61 330.02 L546.45 330.89 L547.28 331.75 L548.11 332.62 L548.93 333.50 L549.75 334.37 L550.57 335.25 L551.39 336.13 L552.20 337.01 L553.02 337.89 L553.82 338.78 L554.63 339.67 L555.43 340.56 L556.23 341.45 L557.03 342.35 L557.83 343.25 L558.62 344.15 L559.41 345.05 L560.20 345.96 L560.98 346.87 L561.76 347.78 L562.54 348.69 L563.32 349.61 L564.10 350.52 L564.87 351.44 L565.64 352.36 L566.41 353.29 L567.17 354.21 L567.93 355.14 L568.69 356.07 L569.45 357.00 L570.21 357.93 L570.96 358.87 L571.71 359.80 L572.46 360.74 L573.20 361.68 L573.94 362.62 L574.69 363.57 L575.42 364.52 L576.16 365.46 L576.89 366.41 L577.62 367.36 L578.35 368.32 L579.08 369.27 L579.81 370.23 L580.53 371.19 L581.25 372.15 L581.97 373.11 L582.68 374.07 L583.40 375.04 L584.11 376.01 L584.82 376.97 L585.52 377.94 L586.23 378.91 L586.93 379.89 L587.63 380.86 L588.33 381.84 L589.03 382.82 L589.72 383.79 L590.42 384.77 L591.11 385.76 L591.79 386.74 L592.48 387.72 L593.17 388.71 L593.85 389.70 L594.53 390.69 L595.21 391.68 L595.88 392.67 L596.56 393.66 L597.23 394.65 L597.90 395.65 L598.57 396.65 L599.24 397.64 L599.90 398.64 L600.56 399.64 L601.22 400.65 L601.88 401.65 L602.54 402.65 L603.20 403.66 L603.85 404.67 L604.50 405.67 L605.15 406.68 L605.80 407.69 L606.45 408.70 L607.09 409.72 L607.73 410.73 L608.38 411.74 L609.02 412.76 L609.65 413.78 L610.29 414.80 L610.92 415.81 L611.56 416.83 L612.19 417.86 L612.81 418.88 L613.44 419.90 L614.07 420.93 L614.69 421.95 L615.31 422.98 L615.93 424.00 L616.55 425.03 L617.17 426.06 L617.79 427.09 L618.40 428.12 L619.01 429.16 L619.62 430.19 L620.23 431.22 L620.84 432.26 L621.45 433.29 L622.05 434.33 L622.66 435.37 L623.26 436.41 L623.86 437.45 L624.46 438.49 L625.05 439.53 L625.65 440.57 L626.24 441.61 L626.83 442.66 L627.43 443.70 L628.02 444.75 L628.60 445.79 L629.19 446.84 L629.78 447.89 L630.36 448.94 L630.94 449.99 L631.52 451.04 L632.10 452.09 L632.68 453.14 L633.26 454.19 L633.83 455.25 L634.40 456.30 L634.98 457.36 L635.55 458.41 L636.12 459.47 L636.69 460.53 L637.25 461.58 L637.82 462.64 L638.38 463.70 L638.95 464.76 L639.51 465.82 L640.07 466.88 L640.63 467.95 L641.18 469.01 L641.74 470.07 L642.30 471.14 L642.85 472.20 L643.40 473.27 L643.95 474.33 L644.50 475.40 L645.05 476.47 L645.60 477.54 L646.15 478.60 L646.69 479.67 L647.23 480.74 L647.78 481.81 L648.32 482.89 L648.86 483.96 L649.40 485.03 L649.93 486.10 L650.47 487.18 L651.01 488.25 L651.54 489.33 L652.07 490.40 L652.60 491.48 L653.14 492.55 L653.66 493.63 L654.19 494.71 L654.72 495.79 L655.25 496.87 L655.77 497.95 L656.29 499.03 L656.82 500.11 L657.34 501.19 L657.86 502.27 L658.38 503.35 L658.90 504.43 L659.41 505.52 L659.93 506.60 L660.44 507.69 L660.96 508.77 L661.47 509.86 L661.98 510.94 L662.49 512.03 L663.00 513.11 L663.51 514.20 L664.02 515.29 L664.52 516.38 L665.03 517.47 L665.53 518.56 L666.03 519.65 L666.54 520.74 L667.04 521.83 L667.54 522.92 L668.04 524.01 L668.53 525.10 L669.03 526.19 L669.53 527.29 L670.02 528.38 L670.52 529.47 L671.01 530.57 L671.50 531.66 L671.99 532.76 L672.48 533.85 L672.97 534.95 L673.46 536.05 L673.95 537.14 L674.43 538.24 L674.92 539.34 L675.40 540.44 L675.89 541.54 L676.37 542.63 L676.85 543.73 L677.33 544.83 L677.81 545.93 L678.29 547.03 L678.77 548.14 L679.24 549.24 L679.72 550.34 L680.20 551.44 L680.67 552.54 L681.14 553.65 L681.62 554.75" stroke="#ff0000" stroke-width="3.8"/>
<path d="M104.86 2.80 L104.91 4.00 L104.97 5.20 L105.03 6.40 L105.09 7.59 L105.15 8.79 L105.21 9.99 L105.27 11.19 L105.33 12.39 L105.39 13.59 L105.45 14.79 L105.52 15.98 L105.58 17.18 L105.64 18.38 L105.70 19.58 L105.76 20.78 L105.83 21.98 L105.89 23.17 L105.95 24.37 L106.02 25.57 L106.08 26.77 L106.15 27.97 L106.21 29.17 L106.28 30.36 L106.34 31.56 L106.41 32.76 L106.47 33.96 L106.54 35.16 L106.61 36.35 L106.67 37.55 L106.74 38.75 L106.81 39.95 L106.88 41.15 L106.95 42.35 L107.02 43.54 L107.08 44.74 L107.15 45.94 L107.22 47.14 L107.30 48.34 L107.37 49.53 L107.44 50.73 L107.51 51.93 L107.58 53.13 L107.65 54.32 L107.73 55.52 L107.80 56.72 L107.87 57.92 L107.95 59.12 L108.02 60.31 L108.09 61.51 L108.17 62.71 L108.25 63.91 L108.32 65.10 L108.40 66.30 L108.47 67.50 L108.55 68.70 L108.63 69.89 L108.71 71.09 L108.79 72.29 L108.86 73.49 L108.94 74.68 L109.02 75.88 L109.10 77.08 L109.18 78.28 L109.27 79.47 L109.35 80.67 L109.43 81.87 L109.51 83.07 L109.59 84.26 L109.68 85.46 L109.76 86.66 L109.85 87.85 L109.93 89.05 L110.02 90.25 L110.10 91.44 L110.19 92.64 L110.28 93.84 L110.36 95.04 L110.45 96.23 L110.54 97.43 L110.63 98.63 L110.72 99.82 L110.81 101.02 L110.90 102.22 L110.99 103.41 L111.08 104.61 L111.18 105.81 L111.27 107.00 L111.36 108.20 L111.46 109.39 L111.55 110.59 L111.65 111.79 L111.74 112.98 L111.84 114.18 L111.94 115.38 L112.03 116.57 L112.13 117.77 L112.23 118.96 L112.33 120.16 L112.43 121.35 L112.53 122.55 L112.63 123.75 L112.74 124.94 L112.84 126.14 L112.94 127.33 L113.05 128.53 L113.15 129.72 L113.26 130.92 L113.36 132.11 L113.47 133.31 L113.58 134.50 L113.69 135.70 L113.80 136.90 L113.91 138.09 L114.02 139.28 L114.13 140.48 L114.24 141.67 L114.35 142.87 L114.47 144.06 L114.58 145.26 L114.70 146.45 L114.82 147.65 L114.93 148.84 L115.05 150.04 L115.17 151.23 L115.29 152.42 L115.41 153.62 L115.53 154.81 L115.65 156.01 L115.78 157.20 L115.90 158.39 L116.03 159.59 L116.15 160.78 L116.28 161.97 L116.41 163.17 L116.54 164.36 L116.67 165.55 L116.80 166.74 L116.93 167.94 L117.06 169.13 L117.20 170.32 L117.33 171.52 L117.47 172.71 L117.60 173.90 L117.74 175.09 L117.88 176.28 L118.02 177.48 L118.16 178.67 L118.30 179.86 L118.45 181.05 L118.59 182.24 L118.74 183.43 L118.89 184.62 L119.04 185.81 L119.18 187.00 L119.34 188.20 L119.49 189.39 L119.64 190.58 L119.80 191.77 L119.95 192.96 L120.11 194.15 L120.27 195.33 L120.43 196.52 L120.59 197.71 L120.75 198.90 L120.92 200.09 L121.08 201.28 L121.25 202.47 L121.42 203.66 L121.59 204.84 L121.76 206.03 L121.94 207.22 L122.11 208.41 L122.29 209.59 L122.47 210.78 L122.65 211.97 L122.83 213.15 L123.01 214.34 L123.20 215.52 L123.38 216.71 L123.57 217.89 L123.76 219.08 L123.95 220.26 L124.15 221.45 L124.35 222.63 L124.54 223.82 L124.74 225.00 L124.95 226.18 L125.15 227.36 L125.36 228.55 L125.56 229.73 L125.77 230.91 L125.99 232.09 L126.20 233.27 L126.42 234.45 L126.64 235.63 L126.86 236.81 L127.08 237.99 L127.31 239.17 L127.54 240.35 L127.77 241.52 L128.01 242.70 L128.24 243.88 L128.48 245.05 L128.72 246.23 L128.97 247.40 L129.22 248.58 L129.47 249.75 L129.72 250.92 L129.98 252.10 L130.24 253.27 L130.50 254.44 L130.77 255.61 L131.03 256.78 L131.31 257.95 L131.58 259.11 L131.86 260.28 L132.14 261.45 L132.43 262.61 L132.72 263.78 L133.01 264.94 L133.31 266.10 L133.61 267.27 L133.92 268.43 L134.22 269.59 L134.54 270.74 L134.85 271.90 L135.18 273.06 L135.50 274.21 L135.83 275.37 L136.17 276.52 L136.51 277.67 L136.85 278.82 L137.20 279.97 L137.56 281.11 L137.92 282.26 L138.28 283.40 L138.65 284.54 L139.03 285.68 L139.41 286.82 L139.80 287.96 L140.19 289.09 L140.59 290.22 L141.00 291.35 L141.41 292.48 L141.83 293.60 L142.26 294.72 L142.69 295.84 L143.13 296.96 L143.58 298.07 L144.03 299.18 L144.49 300.29 L144.96 301.39 L145.44 302.49 L145.93 303.59 L146.42 304.68 L146.93 305.77 L147.44 306.86 L147.96 307.94 L148.49 309.02 L149.04 310.09 L149.59 311.15 L150.15 312.21 L150.72 313.27 L151.30 314.32 L151.90 315.36 L152.50 316.40 L153.12 317.43 L153.75 318.45 L154.39 319.46 L155.04 320.47 L155.71 321.47 L156.38 322.46 L157.08 323.44 L157.78 324.41 L158.50 325.37 L159.23 326.32 L159.98 327.26 L160.74 328.19 L161.52 329.10 L162.31 330.00 L163.12 330.89 L163.94 331.76 L164.78 332.62 L165.63 333.47 L166.50 334.30 L167.38 335.11 L168.28 335.90 L169.20 336.68 L170.13 337.44 L171.07 338.18 L172.03 338.90 L173.01 339.59 L174.00 340.27 L175.00 340.93 L176.02 341.57 L177.05 342.18 L178.10 342.77 L179.15 343.34 L180.22 343.89 L181.30 344.41 L182.39 344.91 L183.49 345.39 L184.60 345.84 L185.72 346.27 L186.85 346.68 L187.99 347.07 L189.13 347.43 L190.28 347.78 L191.44 348.10 L192.60 348.40 L193.76 348.68 L194.94 348.94 L196.11 349.18 L197.29 349.40 L198.47 349.60 L199.66 349.78 L200.85 349.95 L202.04 350.10 L203.23 350.23 L204.43 350.35 L205.62 350.46 L206.82 350.54 L208.02 350.62 L209.21 350.68 L210.41 350.73 L211.61 350.76 L212.81 350.79 L214.01 350.80 L215.21 350.81 L216.41 350.80 L217.61 350.78 L218.81 350.75 L220.01 350.72 L221.21 350.68 L222.41 350.63 L223.61 350.57 L224.81 350.50 L226.00 350.43 L227.20 350.35 L228.40 350.27 L229.60 350.18 L230.79 350.08 L231.99 349.99 L233.18 349.88 L234.38 349.77 L235.57 349.66 L236.77 349.55 L237.96 349.43 L239.16 349.31 L240.35 349.19 L241.54 349.06 L242.74 348.93 L243.93 348.80 L245.12 348.67 L246.32 348.54 L247.51 348.41 L248.70 348.27 L249.89 348.14 L251.09 348.00 L252.28 347.87 L253.47 347.74 L254.66 347.60 L255.86 347.47 L257.05 347.34 L258.24 347.20 L259.43 347.07 L260.63 346.94 L261.82 346.82 L263.01 346.69 L264.21 346.57 L265.40 346.45 L266.59 346.33 L267.79 346.21 L268.98 346.10 L270.18 345.98 L271.37 345.88 L272.57 345.77 L273.76 345.67 L274.96 345.57 L276.16 345.48 L277.35 345.39 L278.55 345.30 L279.75 345.22 L280.95 345.14 L282.14 345.07 L283.34 345.00 L284.54 344.93 L285.74 344.87 L286.94 344.82 L288.14 344.77 L289.34 344.73 L290.53 344.69 L291.73 344.66 L292.93 344.63 L294.13 344.61 L295.33 344.59 L296.53 344.59 L297.73 344.58 L298.93 344.59 L300.13 344.60 L301.33 344.61 L302.53 344.64 L303.73 344.67 L304.93 344.71 L306.13 344.75 L307.33 344.80 L308.53 344.86 L309.73 344.93 L310.93 345.00 L312.12 345.09 L313.32 345.18 L314.52 345.27 L315.71 345.38 L316.91 345.49 L318.10 345.61 L319.29 345.74 L320.48 345.88 L321.68 346.03 L322.87 346.18 L324.05 346.34 L325.24 346.51 L326.43 346.69 L327.61 346.88 L328.80 347.08 L329.98 347.28 L331.16 347.50 L332.34 347.72 L333.52 347.95 L334.69 348.19 L335.87 348.44 L337.04 348.70 L338.21 348.97 L339.38 349.25 L340.54 349.53 L341.70 349.82 L342.87 350.13 L344.02 350.44 L345.18 350.76 L346.33 351.09 L347.49 351.43 L348.63 351.78 L349.78 352.14 L350.92 352.50 L352.06 352.88 L353.20 353.26 L354.33 353.65 L355.46 354.05 L356.59 354.46 L357.72 354.88 L358.84 355.31 L359.96 355.75 L361.07 356.19 L362.18 356.64 L363.29 357.11 L364.39 357.58 L365.49 358.05 L366.59 358.54 L367.68 359.04 L368.77 359.54 L369.86 360.05 L370.94 360.57 L372.02 361.10 L373.09 361.63 L374.16 362.18 L375.23 362.73 L376.29 363.29 L377.35 363.85 L378.40 364.43 L379.45 365.01 L380.50 365.60 L381.54 366.19 L382.58 366.80 L383.61 367.41 L384.64 368.03 L385.66 368.65 L386.68 369.28 L387.70 369.92 L388.71 370.57 L389.72 371.22 L390.72 371.88 L391.72 372.54 L392.71 373.21 L393.70 373.89 L394.69 374.58 L395.67 375.27 L396.65 375.96 L397.62 376.67 L398.59 377.37 L399.56 378.09 L400.52 378.81 L401.47 379.53 L402.42 380.26 L403.37 381.00 L404.31 381.74 L405.25 382.49 L406.19 383.25 L407.12 384.00 L408.04 384.77 L408.96 385.54 L409.88 386.31 L410.79 387.09 L411.70 387.87 L412.61 388.66 L413.51 389.45 L414.40 390.25 L415.30 391.05 L416.19 391.86 L417.07 392.67 L417.95 393.49 L418.83 394.31 L419.70 395.13 L420.57 395.96 L421.43 396.79 L422.29 397.63 L423.15 398.47 L424.00 399.31 L424.85 400.16 L425.69 401.01 L426.54 401.87 L427.37 402.73 L428.21 403.59 L429.04 404.46 L429.86 405.33 L430.68 406.20 L431.50 407.08 L432.32 407.96 L433.13 408.85 L433.94 409.73 L434.74 410.62 L435.54 411.52 L436.34 412.41 L437.13 413.31 L437.92 414.22 L438.71 415.12 L439.49 416.03 L440.27 416.95 L441.05 417.86 L441.82 418.78 L442.59 419.70 L443.36 420.62 L444.12 421.55 L444.88 422.48 L445.64 423.41 L446.39 424.34 L447.14 425.28 L447.89 426.22 L448.63 427.16 L449.37 428.10 L450.11 429.05 L450.84 430.00 L451.58 430.95 L452.30 431.90 L453.03 432.86 L453.75 433.82 L454.47 434.78 L455.19 435.74 L455.90 436.71 L456.61 437.67 L457.32 438.64 L458.03 439.61 L458.73 440.59 L459.43 441.56 L460.12 442.54 L460.82 443.52 L461.51 444.50 L462.20 445.48 L462.88 446.47 L463.57 447.45 L464.25 448.44 L464.93 449.43 L465.60 450.42 L466.27 451.42 L466.94 452.41 L467.61 453.41 L468.28 454.41 L468.94 455.41 L469.60 456.41 L470.26 457.42 L470.91 458.42 L471.56 459.43 L472.21 460.44 L472.86 461.45 L473.51 462.46 L474.15 463.47 L474.79 464.49 L475.43 465.50 L476.07 466.52 L476.70 467.54 L477.33 468.56 L477.96 469.58 L478.59 470.60 L479.21 471.63 L479.84 472.65 L480.46 473.68 L481.07 474.71 L481.69 475.74 L482.30 476.77 L482.92 477.80 L483.53 478.84 L484.13 479.87 L484.74 480.91 L485.34 481.95 L485.94 482.98 L486.54 484.02 L487.14 485.06 L487.74 486.11 L488.33 487.15 L488.92 488.19 L489.51 489.24 L490.10 490.28 L490.68 491.33 L491.27 492.38 L491.85 493.43 L492.43 494.48 L493.01 495.53 L493.58 496.59 L494.16 497.64 L494.73 498.69 L495.30 499.75 L495.87 500.81 L496.43 501.86 L497.00 502.92 L497.56 503.98 L498.13 505.04 L498.68 506.10 L499.24 507.17 L499.80 508.23 L500.35 509.29 L500.91 510.36 L501.46 511.42 L502.01 512.49 L502.56 513.56 L503.10 514.63 L503.65 515.70 L504.19 516.77 L504.73 517.84 L505.27 518.91 L505.81 519.98 L506.35 521.06 L506.88 522.13 L507.42 523.20 L507.95 524.28 L508.48 525.36 L509.01 526.43 L509.53 527.51 L510.06 528.59 L510.58 529.67 L511.11 530.75 L511.63 531.83 L512.15 532.91 L512.67 533.99 L513.18 535.08 L513.70 536.16 L514.21 537.25 L514.73 538.33 L515.24 539.42 L515.75 540.50 L516.25 541.59 L516.76 542.68 L517.27 543.77 L517.77 544.85 L518.27 545.94 L518.78 547.03 L519.28 548.13 L519.77 549.22 L520.27 550.31 L520.77 551.40 L521.26 552.49 L521.76 553.59 L522.25 554.68 L522.74 555.78 L523.23 556.87 L523.72 557.97 L524.20 559.07 L524.69 560.16 L525.18 561.26 L525.66 562.36 L526.14 563.46 L526.62 564.56 L527.10 565.66 L527.58 566.76 L528.06 567.86 L528.53 568.96 L529.01 570.06 L529.48 571.17 L529.95 572.27 L530.42 573.37 L530.89 574.48 L531.36 575.58 L531.83 576.69 L532.30 577.79 L532.76 578.90 L533.23 580.01 L533.69 581.11 L534.15 582.22 L534.61 583.33 L535.07 584.44 L535.53 585.54 L535.99 586.65 L536.45 587.76 L536.90 588.87 L537.36 589.98 L537.81 591.10 L538.26 592.21 L538.71 593.32 L539.16 594.43 L539.61 595.54 L540.06 596.66 L540.51 597.77 L540.95 598.89 L541.40 600.00" stroke="#0000ff" stroke-width="3.8" stroke-dasharray="27.45 8.14" stroke-dashoffset="25.92"/>
</g>
<rect x="75.2" y="4.9" width="607.6" height="592.5" fill="none" stroke="#000" stroke-width="2"/>
<line x1="78.80" y1="598" x2="78.80" y2="604.6" stroke="#000" stroke-width="1"/><line x1="145.52" y1="598" x2="145.52" y2="604.6" stroke="#000" stroke-width="1"/><line x1="212.24" y1="598" x2="212.24" y2="604.6" stroke="#000" stroke-width="1"/><line x1="278.96" y1="598" x2="278.96" y2="604.6" stroke="#000" stroke-width="1"/><line x1="345.68" y1="598" x2="345.68" y2="604.6" stroke="#000" stroke-width="1"/><line x1="412.40" y1="598" x2="412.40" y2="604.6" stroke="#000" stroke-width="1"/><line x1="479.12" y1="598" x2="479.12" y2="604.6" stroke="#000" stroke-width="1"/><line x1="545.84" y1="598" x2="545.84" y2="604.6" stroke="#000" stroke-width="1"/><line x1="612.56" y1="598" x2="612.56" y2="604.6" stroke="#000" stroke-width="1"/><line x1="679.28" y1="598" x2="679.28" y2="604.6" stroke="#000" stroke-width="1"/><line x1="68.2" y1="594.00" x2="75" y2="594.00" stroke="#000" stroke-width="1"/><line x1="68.2" y1="447.55" x2="75" y2="447.55" stroke="#000" stroke-width="1"/><line x1="68.2" y1="301.10" x2="75" y2="301.10" stroke="#000" stroke-width="1"/><line x1="68.2" y1="154.65" x2="75" y2="154.65" stroke="#000" stroke-width="1"/><line x1="68.2" y1="8.20" x2="75" y2="8.20" stroke="#000" stroke-width="1"/>
<text transform="translate(78.40 626.5) scale(0.88 1)" text-anchor="middle" font-size="25.5">0</text><text transform="translate(145.12 626.5) scale(0.88 1)" text-anchor="middle" font-size="25.5">1</text><text transform="translate(211.84 626.5) scale(0.88 1)" text-anchor="middle" font-size="25.5">2</text><text transform="translate(278.56 626.5) scale(0.88 1)" text-anchor="middle" font-size="25.5">3</text><text transform="translate(345.28 626.5) scale(0.88 1)" text-anchor="middle" font-size="25.5">4</text><text transform="translate(412.00 626.5) scale(0.88 1)" text-anchor="middle" font-size="25.5">5</text><text transform="translate(478.72 626.5) scale(0.88 1)" text-anchor="middle" font-size="25.5">6</text><text transform="translate(545.44 626.5) scale(0.88 1)" text-anchor="middle" font-size="25.5">7</text><text transform="translate(612.16 626.5) scale(0.88 1)" text-anchor="middle" font-size="25.5">8</text><text transform="translate(678.88 626.5) scale(0.88 1)" text-anchor="middle" font-size="25.5">9</text><text transform="translate(66.9 603.60) scale(0.88 1)" text-anchor="end" font-size="25.5">0</text><text transform="translate(66.9 457.15) scale(0.88 1)" text-anchor="end" font-size="25.5">0.5</text><text transform="translate(66.9 310.70) scale(0.88 1)" text-anchor="end" font-size="25.5">1</text><text transform="translate(66.9 164.25) scale(0.88 1)" text-anchor="end" font-size="25.5">1.5</text><text transform="translate(66.9 17.80) scale(0.88 1)" text-anchor="end" font-size="25.5">2</text>
<text x="-1.2" y="314.6" font-size="37">G</text>
<text x="355" y="665.5" font-size="38">r</text>
<text x="374.3" y="686" font-size="39">+</text>
</svg>
</body></html>
